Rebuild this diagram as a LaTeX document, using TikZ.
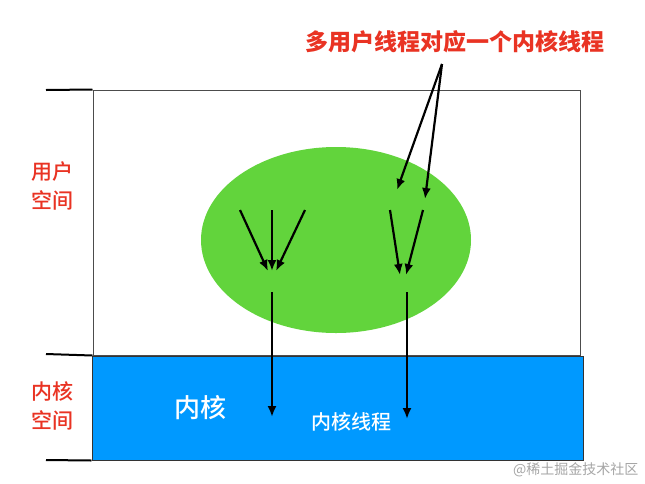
\documentclass[tikz,border=0pt]{standalone}
\usepackage{fontspec}
\newfontfamily\cjk{Noto Sans CJK SC}
\newfontfamily\cjkm{Noto Sans CJK SC Medium}
\usetikzlibrary{arrows.meta,positioning}
\usetikzlibrary{shapes.geometric}
\definecolor{labred}{RGB}{233,51,35}
\definecolor{procgreen}{RGB}{98,212,60}
\definecolor{kernblue}{RGB}{0,153,255}

\begin{document}
\begin{tikzpicture}[x=1pt,y=-1pt]
\tikzstyle{thread}=[-{Latex[length=11pt,width=9pt]},line width=2.2pt]
\tikzstyle{tick}=[line width=2pt]
\tikzstyle{side}=[text=labred,font=\cjkm\fontsize{21}{29}\selectfont,align=center,inner sep=0]
\useasboundingbox (0,0) rectangle (645,483);
\fill [white] (0,0) rectangle (645,483);
% boxes
\node [draw=black!70,line width=1pt,minimum width=487pt,minimum height=265pt,inner sep=0] (user) at (336.5,222.5) {};
\node [draw=black!80,line width=1pt,fill=kernblue,minimum width=491pt,minimum height=104pt,inner sep=0] (kern) at (337.5,408) {};
\node [ellipse,fill=procgreen,minimum width=270pt,minimum height=186pt,inner sep=0] (proc) at (336,240) {};
% scale
\coordinate (u0) at (46,90);
\coordinate (u1) at (46,354);
\coordinate (k1) at (46,460);
\draw [tick] (u0) -- (user.north west);
\draw [tick] (u1) -- (user.south west);
\draw [tick] (k1) -- (kern.south west);
\node [side] (userlab) at (52,186) {用户\\空间};
\node [side] (kernlab) at (52,406) {内核\\空间};
% labels
\node [text=labred,font=\cjk\bfseries\fontsize{23}{27}\selectfont] (note) at (455,42) {多用户线程对应一个内核线程};
\node [text=white,font=\cjkm\fontsize{26}{30}\selectfont] (kname) at (200,408) {内核};
\node [text=white,font=\cjkm\fontsize{20}{24}\selectfont] (kthread) at (351,422) {内核线程};
\node [text=black!35,font=\cjk\fontsize{14}{16}\selectfont,anchor=east] (mark) at (642,470) {@稀土掘金技术社区};
% threads
\coordinate (a1) at (240,210);
\coordinate (a2) at (272,210);
\coordinate (a3) at (305,210);
\coordinate (ta1) at (268,271);
\coordinate (ta2) at (272,271);
\coordinate (ta3) at (276,271);
\coordinate (b1) at (390,210);
\coordinate (b2) at (423,210);
\coordinate (tb1) at (400,275);
\coordinate (tb2) at (406,275);
\coordinate (n0) at (442,64);
\coordinate (tn1) at (397,190);
\coordinate (tn2) at (425,199);
\coordinate (c1) at (272,292);
\coordinate (c2) at (407,292);
\coordinate (tc1) at (272,417);
\coordinate (tc2) at (407,419);
\draw [thread] (a1) -- (ta1);
\draw [thread] (a2) -- (ta2);
\draw [thread] (a3) -- (ta3);
\draw [thread] (b1) -- (tb1);
\draw [thread] (b2) -- (tb2);
\draw [thread] (n0) -- (tn1);
\draw [thread] (n0) -- (tn2);
\draw [thread] (c1) -- (tc1);
\draw [thread] (c2) -- (tc2);
\end{tikzpicture}
\end{document}
